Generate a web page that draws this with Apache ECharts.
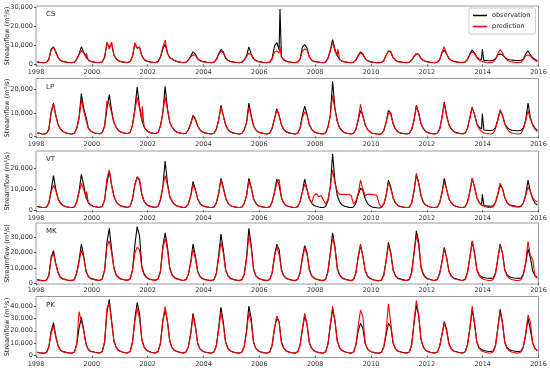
<!DOCTYPE html>
<html>
<head>
<meta charset="utf-8">
<script src="https://cdn.jsdelivr.net/npm/echarts@6/dist/echarts.min.js"></script>
<style>html,body{margin:0;padding:0;background:#fff}#c{width:550px;height:368px}</style>
</head>
<body>
<div id="c"></div>
<script>
// ---------- data (monthly values, m3/s, Jan..Dec per line) ----------
const startYear = 1998, endYear = 2016;
const xTicks = [1998, 2000, 2002, 2004, 2006, 2008, 2010, 2012, 2014, 2016];
const stations = ['CS', 'LP', 'VT', 'MK', 'PK'];
const seriesNames = ['observation', 'prediction'];
const yTitle = 'Streamflow (m\u00b3/s)';

const csObs = [
1300,1100,1000,950,1100,2600,8000,9200,6500,3500,2200,1600,
1300,1100,1000,950,1200,2800,5500,9200,6500,3800,2300,1600,
1300,1100,1000,950,1400,3800,11200,9000,11000,4800,2800,1900,
1500,1200,1100,1000,1600,4200,10800,8500,9000,4500,2600,1800,
1500,1200,1100,1000,1500,3800,8000,10500,6000,3500,2800,2000,
1600,1300,1100,1000,1200,2300,4200,6600,5500,3000,2000,1500,
1300,1100,1000,950,1200,2600,5500,7800,6500,3500,2200,1500,
1300,1100,1000,950,1200,2300,4500,9200,5500,3000,2000,1500,
1300,1100,1000,950,1300,3200,9500,11500,7500,4000,2400,1700,
1400,1200,1000,950,1300,2800,9000,10400,8500,4000,2300,1600,
1400,1200,1000,950,1300,3200,7500,13000,8000,4500,2600,1800,
1400,1200,1000,950,1200,2300,4800,6600,5500,3000,2000,1500,
1200,1000,900,850,1000,2000,4800,7000,6500,3500,2200,1500,
1300,1100,1000,950,1200,2300,4200,5700,5200,3200,2100,1600,
1300,1100,1000,950,1200,2400,6000,7500,5500,3200,2200,1600,
1400,1200,1100,1000,1300,2600,5500,7500,6000,3800,2800,2600,
2100,2000,1900,1900,2100,3000,5000,5500,5000,3800,2800,2400,
2300,2100,2000,2000,2200,2800,5500,7100,5000,3500,2600,1900];
const csPred = [
1300,1100,1000,950,1100,2400,7500,9000,6800,3500,2100,1500,
1300,1100,1000,950,1200,2600,5000,7200,6000,3800,2200,1500,
1300,1100,1000,950,1400,3600,11700,8000,11700,4800,2700,1800,
1400,1200,1000,950,1500,4500,11300,8500,9200,4500,2500,1700,
1400,1200,1000,950,1400,3800,9000,12700,6000,3500,3000,2000,
1500,1200,1000,950,1100,2200,3800,5000,4800,2800,1900,1400,
1300,1100,1000,950,1100,2400,5000,7000,6000,3300,2100,1500,
1300,1100,1000,950,1100,2200,4000,6000,5000,2900,1900,1400,
1300,1100,1000,950,1200,2800,6500,7000,6000,3800,2300,1600,
1300,1100,1000,950,1200,2600,7000,8000,7500,3800,2200,1500,
1300,1100,1000,950,1200,3000,7000,11500,7000,4500,2500,1700,
1300,1100,1000,950,1100,2200,4500,6000,5200,2900,1900,1400,
1200,1000,900,850,1000,2000,4800,7000,6800,3500,2100,1400,
1300,1100,1000,950,1100,2200,4000,5700,5200,3100,2000,1500,
1300,1100,1000,950,1100,2400,6500,9200,5500,3100,2000,1500,
1300,1100,1000,950,1200,2500,5200,6500,5800,3500,2200,1600,
1300,1100,1000,950,1200,2600,5500,7800,6000,3500,2200,1600,
1300,1100,1000,950,1200,2500,4500,5000,4500,3000,2000,1500];
const csObsSpikes = [['2006-09-28', 29000], ['2013-12-28', 8000]];
const csPredSpikes = [['1999-10-20', 6000], ['2006-09-28', 9200], ['2008-10-25', 8000]];

const lpObs = [
1500,1300,1100,1000,1200,3000,10500,14300,9000,5000,3200,2200,
1600,1300,1100,1000,1300,3500,8000,18300,12000,8300,3500,2300,
1700,1400,1200,1100,1600,4500,12000,17900,11000,6000,3800,2500,
1800,1500,1300,1200,1700,5000,12000,21100,13000,7000,4000,2600,
1800,1500,1300,1200,1700,4500,10000,21400,12000,6000,4000,2600,
1900,1500,1300,1100,1300,2800,5500,9000,7500,4500,2800,2000,
1500,1300,1100,1000,1300,3000,7000,13300,9000,5000,3000,2000,
1500,1300,1100,1000,1300,2800,6000,14300,9000,4500,2800,1900,
1500,1300,1100,1000,1400,3500,7500,11900,9000,5000,3000,2000,
1600,1300,1100,1000,1400,3500,9000,12900,9500,5000,3000,2000,
1600,1300,1100,1000,1500,4000,9000,23600,12000,6500,3800,2400,
1700,1400,1200,1000,1300,3000,7000,11100,9000,5000,3000,2000,
1400,1200,1000,900,1100,2500,6000,11100,10000,5500,3200,2000,
1500,1300,1100,1000,1300,3000,7000,13300,10000,5500,3300,2200,
1600,1300,1100,1000,1300,3000,8000,14700,9000,5000,3200,2200,
1600,1400,1200,1100,1500,3500,8000,12300,9500,5500,3800,3200,
2700,2600,2500,2500,2700,3800,7000,11000,9000,5500,3800,3000,
2600,2500,2400,2400,2600,3500,7000,14300,8000,5000,3500,2500];
const lpPred = [
1500,1300,1100,1000,1200,2800,10000,13700,9000,5000,3200,2200,
1600,1300,1100,1000,1300,3300,7500,15700,11000,7000,3400,2200,
1700,1400,1200,1100,1600,4500,15100,14000,10000,5800,3700,2400,
1800,1500,1300,1200,1700,4800,11000,16900,12000,6500,4000,2500,
1800,1500,1300,1200,1700,4500,10000,16900,11500,6000,4000,2500,
1800,1500,1300,1100,1300,2700,5300,8500,7200,4300,2700,1900,
1500,1300,1100,1000,1300,2900,6800,12500,8800,4800,2900,1900,
1500,1300,1100,1000,1300,2700,5800,12500,8500,4400,2700,1800,
1500,1300,1100,1000,1400,3400,7300,11500,8800,4900,2900,1900,
1500,1300,1100,1000,1400,3300,8000,10500,9000,4800,2900,1900,
1500,1300,1100,1000,1500,3800,8800,17600,11500,6300,3600,2300,
1600,1300,1100,1000,1300,3000,7500,13700,8500,4800,2900,1900,
1300,1100,1000,900,1100,2500,6000,10000,9500,5300,3100,1900,
1400,1200,1100,1000,1300,3000,7000,12900,9800,5300,3200,2100,
1500,1300,1100,1000,1300,3000,8000,14300,8800,4900,3100,2100,
1500,1300,1100,1000,1400,3400,8000,12600,9300,5300,3200,2100,
1400,1200,1100,1000,1300,3200,7000,11500,9200,5300,3100,2000,
1400,1200,1100,1000,1300,3200,6500,11000,7500,4800,3000,2000];
const lpObsSpikes = [['2013-12-28', 9700]];
const lpPredSpikes = [['2001-10-22', 12900]];

const vtObs = [
1800,1600,1400,1300,1500,3500,9500,16500,10000,5500,3500,2400,
1900,1600,1400,1300,1600,4000,9000,17100,12000,6000,3700,2500,
2000,1700,1500,1400,1900,5000,13000,18700,12000,6500,4000,2700,
2100,1800,1500,1400,2000,5500,12000,16000,14000,7500,4200,2800,
2100,1800,1500,1400,2000,5000,11000,23500,13000,6500,4200,2800,
2200,1800,1500,1300,1600,3200,7000,13700,10000,5500,3200,2300,
1800,1600,1400,1300,1600,3500,8000,15200,11000,6000,3500,2300,
1800,1600,1400,1300,1600,3300,7000,15200,11000,5500,3300,2200,
1800,1600,1400,1300,1700,4000,8500,14800,12000,6000,3500,2300,
1900,1600,1400,1300,1700,4000,9000,14900,10000,5500,3300,2300,
1900,1600,1400,1300,1800,4500,11000,26800,14000,7000,4000,2600,
2000,1700,1400,1300,1600,3500,7500,10500,9500,5500,3200,2200,
1600,1400,1200,1100,1300,3000,7000,14400,11000,6000,3500,2300,
1800,1600,1400,1300,1600,3500,9000,16800,13000,7000,3800,2500,
1900,1600,1400,1300,1600,3500,8500,15200,10000,5500,3500,2400,
1900,1600,1400,1300,1700,4000,9000,15200,11000,6000,3800,2600,
2300,2100,2000,1900,2100,3800,7500,12100,10500,6000,3800,2800,
2300,2100,1900,1800,2000,3500,7500,14400,9000,5500,3300,2500];
const vtPred = [
1800,1600,1400,1300,1500,3300,8500,12000,9500,5300,3300,2300,
1800,1600,1400,1300,1600,3800,8500,12900,10000,6000,3600,2400,
1900,1700,1500,1400,1900,5000,15200,19200,12000,7000,4000,2700,
2000,1700,1500,1400,2000,5500,12500,15600,14900,7500,4200,2800,
2000,1700,1500,1400,2000,5000,11000,16500,12000,6800,4500,2800,
2100,1800,1500,1300,1600,3200,6800,12000,9500,5300,3100,2200,
1800,1600,1400,1300,1600,3500,7800,14500,10500,5800,3400,2300,
1800,1600,1400,1300,1600,3300,7000,14000,10500,5500,3300,2200,
1800,1600,1400,1300,1700,4000,8500,13000,14800,6000,3500,2300,
1900,1600,1400,1300,1700,4000,8500,12500,10000,5500,3500,7000,
8000,6500,7000,5000,3000,5000,11000,19200,13000,9000,7600,7600,
7600,7400,7600,7000,3000,4500,8000,14400,10000,7000,7600,7600,
7600,7400,7000,3000,1500,3000,7000,13500,10500,6000,3500,2300,
1800,1600,1400,1300,1600,3500,9500,17600,13000,7000,3800,2500,
1900,1600,1400,1300,1600,3500,8000,13500,10000,5500,3500,2400,
1900,1600,1400,1300,1700,4000,9000,15200,11000,6000,3600,2500,
1900,1600,1400,1300,1600,3600,7800,12900,10500,6000,3600,2500,
2000,1800,1600,1500,1800,3500,7000,11000,9000,6000,4500,4000];
const vtObsSpikes = [['2013-12-28', 7600]];
const vtPredSpikes = [['1999-10-25', 8900]];

const mkObs = [
2500,2100,1900,1800,2200,5000,17000,21300,13000,7000,4200,3000,
2600,2200,2000,1900,2500,7000,14800,25600,18000,8000,4500,3200,
2800,2400,2100,2000,3000,9000,26700,35900,22000,10000,5500,3800,
3000,2500,2200,2100,3000,9000,25000,37000,31000,11000,6000,4000,
3000,2500,2200,2100,3000,8000,24000,33000,24000,10000,5500,3800,
3200,2600,2200,2000,2500,6000,14000,25600,18000,8000,4500,3200,
2700,2300,2000,1900,2500,6500,18000,32200,22000,9000,5000,3500,
2800,2300,2000,1900,2500,6000,17000,35900,25000,9500,5000,3500,
2800,2300,2000,1900,2600,7000,18000,25600,22000,9000,5000,3500,
2800,2300,2000,1900,2600,7000,17000,24600,20000,9000,5000,3500,
2800,2300,2000,1900,2600,8000,20000,33000,24000,10000,5500,3700,
3000,2500,2100,1900,2500,7000,17000,24600,18000,8500,4800,3400,
2700,2200,1900,1800,2200,5500,15000,26700,20000,9000,5000,3500,
2900,2400,2100,2000,2600,7500,20000,34300,27000,11000,6000,4000,
3000,2500,2200,2000,2600,6500,14000,23500,17000,8000,4800,3500,
3000,2500,2200,2000,2800,7500,17000,27800,20000,9000,5500,4200,
3800,3500,3300,3200,3500,6500,16000,25600,20000,9000,5500,4200,
3800,3500,3300,3200,3500,6000,13000,22400,17000,8000,5000,3800];
const mkPred = [
2200,1900,1700,1600,2000,4800,16000,20000,12500,6500,3800,2700,
2300,2000,1800,1700,2300,6500,14000,21700,17000,8000,4300,3000,
2500,2200,1900,1800,2800,8500,24000,27800,20000,9500,5200,3500,
2700,2300,2000,1900,2800,8500,20000,23500,22000,10000,5500,3700,
2700,2300,2000,1900,2800,7500,22000,30000,22000,9500,5200,3500,
2800,2300,2000,1800,2300,5500,13000,22400,16500,7500,4200,3000,
2400,2000,1800,1700,2300,6000,16000,26700,20000,8500,4700,3200,
2500,2100,1800,1700,2300,5500,15500,31100,23000,9000,4800,3300,
2500,2100,1800,1700,2400,6500,17000,24000,19000,8500,4700,3300,
2500,2100,1800,1700,2400,6500,16000,23000,19000,8500,4700,3300,
2500,2100,1800,1700,2400,7500,19000,30000,23000,9500,5200,3500,
2700,2300,1900,1700,2300,6500,18000,25600,17500,8000,4500,3100,
2400,2000,1700,1600,2000,5000,14500,25000,19500,8500,4700,3200,
2600,2200,1900,1800,2400,7000,19000,31100,25000,10000,5500,3600,
2700,2300,2000,1800,2400,6000,14000,22400,16500,7500,4500,3200,
2700,2300,2000,1800,2500,7000,17000,27400,19500,8500,4800,3300,
2600,2200,1900,1800,2400,6000,16000,25000,19500,8500,4700,3200,
2500,2100,1900,1800,2300,5500,14000,27400,18000,15900,4500,3200];
const mkObsSpikes = [];
const mkPredSpikes = [];

const pkObs = [
2800,2400,2200,2100,2600,7000,19300,26500,16000,8000,4500,3300,
2900,2500,2200,2100,3000,9000,22000,30800,21000,9500,5000,3600,
3200,2700,2400,2300,3500,11000,35000,45300,28000,12000,6500,4300,
3400,2800,2500,2400,3500,11000,30000,42600,34000,13000,7000,4500,
3400,2800,2500,2400,3500,10000,28000,36700,28000,12000,6500,4300,
3500,2900,2500,2300,3000,7500,18000,34000,24000,10000,5500,3800,
3000,2600,2300,2200,3000,8000,22000,38900,27000,11000,6000,4000,
3100,2600,2300,2200,3000,7500,20000,39900,30000,11000,6000,4000,
3100,2600,2300,2200,3100,8500,22000,30000,27000,11000,6000,4000,
3100,2600,2300,2200,3100,8500,21000,32000,25000,10500,6000,4000,
3100,2600,2300,2200,3100,9500,24000,37300,28000,12000,6500,4300,
3300,2800,2400,2200,3000,8500,20000,26000,22000,10000,5500,3800,
3000,2500,2200,2100,2700,7000,17000,26000,23000,10000,5500,3800,
3200,2700,2400,2300,3000,9000,26000,40700,32000,13000,7000,4500,
3300,2800,2500,2300,3000,7500,17000,27300,21000,9500,5500,3800,
3300,2800,2500,2300,3200,9000,22000,37000,26000,11000,6500,4800,
4200,3800,3500,3400,3800,8000,22000,37300,27000,11000,6500,4800,
4200,3800,3500,3400,3800,7500,17000,30000,21000,10000,5800,4200];
const pkPred = [
2700,2300,2100,2000,2500,6500,18000,24000,15000,7500,4300,3100,
2800,2400,2100,2000,2900,9000,35400,28000,20000,9000,4800,3400,
3100,2600,2300,2200,3400,11000,38000,42100,27000,11500,6300,4100,
3300,2700,2400,2300,3400,11000,28000,38000,30000,12500,6700,4300,
3300,2700,2400,2300,3400,10000,28000,39400,27000,11500,6300,4100,
3300,2700,2400,2200,2900,7000,17000,32000,23000,9500,5300,3600,
2900,2500,2200,2100,2900,7500,20000,35400,25000,10500,5800,3800,
3000,2500,2200,2100,2900,7000,19000,34600,27000,10500,5800,3800,
3000,2500,2200,2100,3000,8000,22000,31900,27300,10500,5800,3800,
3000,2500,2200,2100,3000,8000,22000,34000,25000,10000,5800,3800,
3000,2500,2200,2100,3000,9000,25000,39900,28000,11500,6300,4100,
3200,2700,2300,2100,2900,8500,24000,36700,31400,10000,5300,3600,
2900,2400,2100,2000,2600,7000,20000,41600,26000,10500,5700,3800,
3100,2600,2300,2200,2900,9000,28000,44200,33000,13000,6800,4300,
3200,2700,2400,2200,2900,7500,17000,26000,20000,9000,5300,3600,
3200,2700,2400,2200,3100,8500,22000,39900,26000,10500,5800,3800,
3100,2600,2300,2200,3000,7500,22000,35000,26000,10500,5800,3800,
3000,2500,2200,2100,2900,7000,18000,32700,27000,10000,5500,3800];
const pkObsSpikes = [];
const pkPredSpikes = [];

const yTicks = [
  [0, 10000, 20000, 30000],
  [0, 10000, 20000],
  [0, 10000, 20000],
  [0, 10000, 20000, 30000],
  [0, 10000, 20000, 30000, 40000]
];
const yLimits = [[-840, 30560], [-500, 24800], [-570, 28230], [-460, 39400], [-1450, 47550]];

// ---------- build ----------
const monthX = [];
for (let y = startYear; y < endYear; y++) for (let m = 0; m < 12; m++) monthX.push(y + (m + 0.5) / 12);
function dateToX(s) {
  const p = s.split('-').map(Number);
  const a = Date.UTC(p[0], 0, 1), b = Date.UTC(p[0] + 1, 0, 1);
  return p[0] + (Date.UTC(p[0], p[1] - 1, p[2]) - a) / (b - a);
}
function build(vals, spikes) {
  const pts = vals.map((v, i) => [monthX[i], v]);
  spikes.forEach(s => pts.push([dateToX(s[0]), s[1]]));
  pts.sort((a, b) => a[0] - b[0]);
  return pts;
}
const obsAll = [[csObs, csObsSpikes], [lpObs, lpObsSpikes], [vtObs, vtObsSpikes], [mkObs, mkObsSpikes], [pkObs, pkObsSpikes]];
const predAll = [[csPred, csPredSpikes], [lpPred, lpPredSpikes], [vtPred, vtPredSpikes], [mkPred, mkPredSpikes], [pkPred, pkPredSpikes]];

const gridBoxes = [[6, 60], [78.5, 59], [151, 60.5], [223, 61], [296.5, 61]];
const fmt = v => String(v).replace(/\B(?=(\d{3})+(?!\d))/g, ',');
const FONT = 'DejaVu Sans';
const grid = [], xAxis = [], yAxis = [], series = [], graphic = [];
gridBoxes.forEach((g, i) => {
  grid.push({ left: 36, right: 11.5, top: g[0], height: g[1], outerBoundsMode: 'none', containLabel: false,
    show: true, borderColor: '#9a9a9a', borderWidth: 1, backgroundColor: 'transparent' });
  xAxis.push({
    type: 'value', gridIndex: i, min: startYear, max: endYear, interval: 2,
    axisLine: { show: false }, splitLine: { show: false },
    axisTick: { show: true, length: 2, lineStyle: { color: '#555' } },
    axisLabel: { formatter: v => String(v), fontSize: 6.5, fontFamily: FONT, color: '#333', margin: 3, showMaxLabel: true, showMinLabel: true }
  });
  yAxis.push({
    type: 'value', gridIndex: i, min: yLimits[i][0], max: yLimits[i][1],
    axisLine: { show: false }, splitLine: { show: false },
    axisTick: { show: true, length: 2, customValues: yTicks[i], lineStyle: { color: '#555' } },
    axisLabel: { customValues: yTicks[i], formatter: fmt, fontSize: 6.5, fontFamily: FONT, color: '#333', margin: 3 }
  });
  series.push({
    name: seriesNames[0], type: 'line', xAxisIndex: i, yAxisIndex: i, showSymbol: false, symbol: 'none',
    data: build(obsAll[i][0], obsAll[i][1]), lineStyle: { color: '#000', width: 1.1 }, itemStyle: { color: '#000' }, z: 2
  });
  series.push({
    name: seriesNames[1], type: 'line', xAxisIndex: i, yAxisIndex: i, showSymbol: false, symbol: 'none',
    data: build(predAll[i][0], predAll[i][1]), lineStyle: { color: '#ff0000', width: 1.1 }, itemStyle: { color: '#ff0000' }, z: 3
  });
  graphic.push({ type: 'text', left: 46, top: g[0] + 5, style: { text: stations[i], fontSize: 7, fontFamily: FONT, fill: '#222' } });
  graphic.push({ type: 'text', x: 7.5, y: g[0] + g[1] / 2, rotation: Math.PI / 2,
    style: { text: yTitle, fontSize: 6.5, fontFamily: FONT, fill: '#222', align: 'center', verticalAlign: 'middle' } });
});

const chart = echarts.init(document.getElementById('c'), null, { renderer: 'canvas' });
chart.setOption({
  animation: false,
  backgroundColor: '#fff',
  grid, xAxis, yAxis, series, graphic,
  legend: {
    data: seriesNames, orient: 'vertical', left: 469, top: 8,
    itemWidth: 14, itemHeight: 1.5, itemGap: 4, icon: 'rect',
    padding: [4, 5, 4, 4], borderColor: '#cccccc', borderWidth: 1, borderRadius: 2,
    backgroundColor: '#fff',
    textStyle: { fontSize: 6.5, fontFamily: FONT, color: '#222' }
  }
});
</script>
</body>
</html>
